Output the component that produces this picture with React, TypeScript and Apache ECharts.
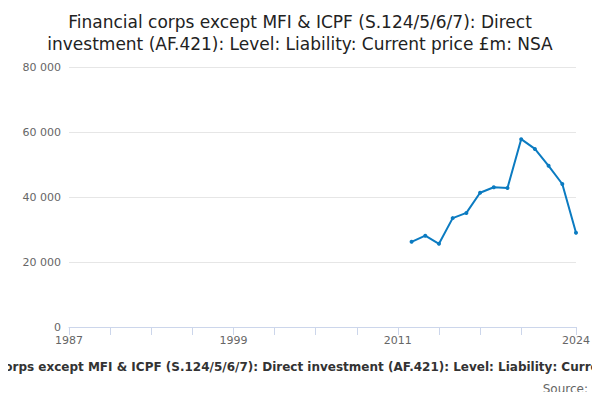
import React, { useEffect, useRef } from 'react';
import * as echarts from 'echarts';

const years: string[] = [];
for (let y = 1987; y <= 2024; y++) years.push(String(y));

const dataYears = ['2012', '2013', '2014', '2015', '2016', '2017', '2018', '2019', '2020', '2021', '2022', '2023', '2024'];
const dataValues = [26200, 28100, 25600, 33500, 35100, 41300, 43000, 42800, 57800, 54800, 49600, 44000, 29000];

const titleText = 'Financial corps except MFI & ICPF (S.124/5/6/7): Direct\ninvestment (AF.421): Level: Liability: Current price £m: NSA';
const axisTitle = 'Financial corps except MFI & ICPF (S.124/5/6/7): Direct investment (AF.421): Level: Liability: Current price £m: NSA';

const App = () => {
    const chartRef = useRef(null);

    useEffect(() => {
        const chart = echarts.init(chartRef.current, null, { renderer: 'svg' });
        const seriesData = years.map((y) => {
            const i = dataYears.indexOf(y);
            return i >= 0 ? dataValues[i] : null;
        });
        chart.setOption({
            animation: false,
            textStyle: { fontFamily: 'DejaVu Sans' },
            title: {
                text: titleText,
                left: 'center',
                top: 6,
                textStyle: { fontSize: 17, fontWeight: 'normal', color: '#222', lineHeight: 22 },
            },
            grid: { left: 69, right: 24, top: 67, bottom: 73, containLabel: false, outerBoundsMode: 'none' },
            xAxis: {
                type: 'category',
                data: years,
                boundaryGap: false,
                axisLine: { lineStyle: { color: '#ccd6eb' } },
                axisTick: { interval: 2, lineStyle: { color: '#ccd6eb' }, length: 8 },
                axisLabel: {
                    color: '#666',
                    fontSize: 11,
                    hideOverlap: false,
                    showMaxLabel: true,
                    interval: (i: number) => i % 12 === 0 || i === years.length - 1,
                },
                name: axisTitle,
                nameLocation: 'middle',
                nameGap: 34,
                nameTextStyle: { color: '#333', fontSize: 12, fontWeight: 'bold' },
            },
            yAxis: {
                type: 'value',
                min: 0,
                max: 80000,
                interval: 20000,
                axisLabel: {
                    color: '#666',
                    fontSize: 11,
                    formatter: (v: number) => (v === 0 ? '0' : String(v).replace(/(\d)(?=(\d{3})+$)/g, '$1 ')),
                },
                splitLine: { lineStyle: { color: '#e6e6e6' } },
            },
            graphic: [
                { type: 'text', right: 12, bottom: 5, style: { text: 'Source:', fill: '#666', fontSize: 12, fontFamily: 'DejaVu Sans' } },
            ],
            series: [
                {
                    type: 'line',
                    data: seriesData,
                    color: '#0b7bc1',
                    symbol: 'circle',
                    symbolSize: 4,
                    lineStyle: { width: 2 },
                },
            ],
        });
        return () => chart.dispose();
    }, []);

    return <div ref={chartRef} style={{ width: '600px', height: '400px', margin: '-8px' }} />;
};

export default App;
